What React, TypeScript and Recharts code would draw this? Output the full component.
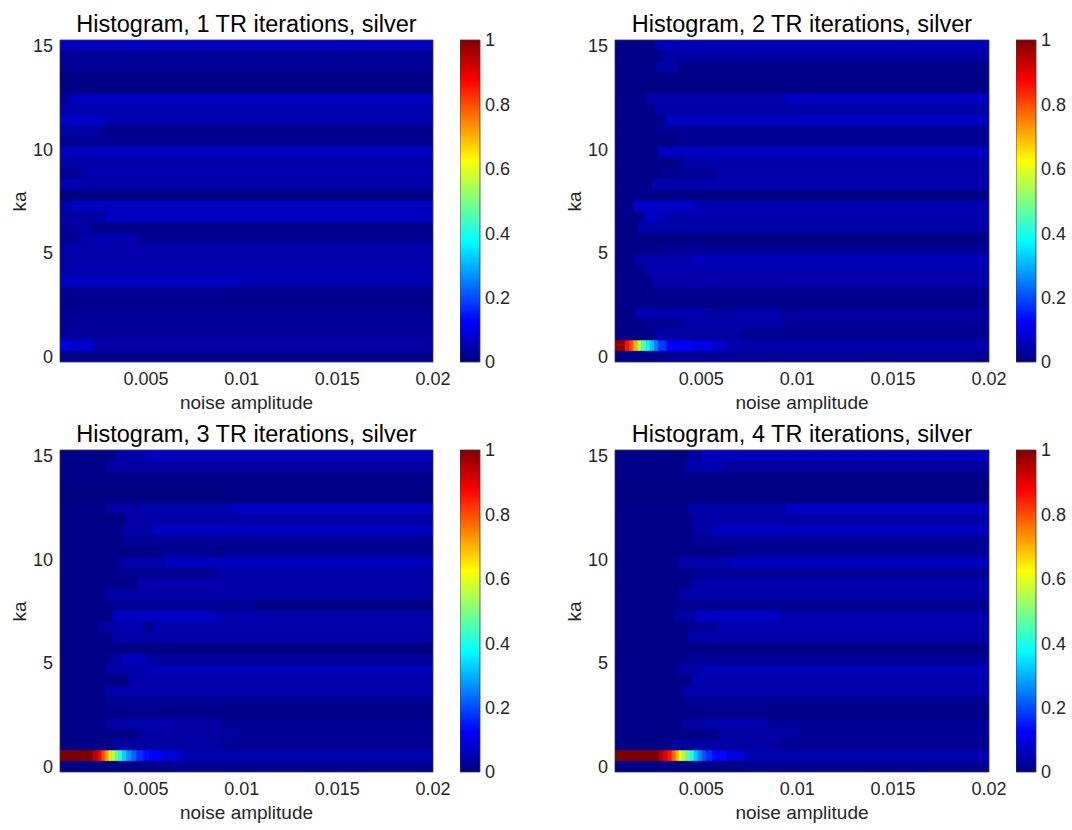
import React from 'react';
import { ComposedChart, XAxis, YAxis, ReferenceArea } from 'recharts';

// ---------- axes / categories ----------
const X_MIN = 0.0005;
const X_MAX = 0.02;
const X_TICKS = [0.005, 0.01, 0.015, 0.02];
const KA_TICKS = [0, 5, 10, 15];
const CB_TICKS = [0, 0.2, 0.4, 0.6, 0.8, 1];
// 30 ka rows (bottom -> top)
const KA_VALUES = [
  0, 0.517, 1.034, 1.552, 2.069, 2.586, 3.103, 3.621, 4.138, 4.655,
  5.172, 5.69, 6.207, 6.724, 7.241, 7.759, 8.276, 8.793, 9.31, 9.828,
  10.345, 10.862, 11.379, 11.897, 12.414, 12.931, 13.448, 13.966, 14.483, 15,
];
const KA_HALF = 0.2586;
const TITLES = [
  'Histogram, 1 TR iterations, silver',
  'Histogram, 2 TR iterations, silver',
  'Histogram, 3 TR iterations, silver',
  'Histogram, 4 TR iterations, silver',
];

// ---------- data: each row (top -> bottom) is a list of [x upper edge, value] runs ----------
const D = 0.008;
const ROWS_1: number[][][] = [
  [[0.02, 0.065]],
  [[0.02, 0.025]],
  [[0.02, 0.022]],
  [[0.02, 0.006]],
  [[0.02, 0.006]],
  [[0.00108, 0.03], [0.02, 0.065]],
  [[0.02, 0.048]],
  [[0.00287, 0.072], [0.02, 0.045]],
  [[0.00264, 0.035], [0.02, 0.01]],
  [[0.02, 0.022]],
  [[0.02, 0.063]],
  [[0.02, 0.04]],
  [[0.00169, 0.02], [0.02, 0.048]],
  [[0.00169, 0.055], [0.02, 0.04]],
  [[0.02, 0.005]],
  [[0.00108, 0.045], [0.02, 0.062]],
  [[0.00287, 0.035], [0.02, 0.068]],
  [[0.00212, 0.03], [0.02, 0.01]],
  [[0.00169, 0.025], [0.00456, 0.045], [0.02, 0.022]],
  [[0.02, 0.045]],
  [[0.02, 0.045]],
  [[0.02, 0.05]],
  [[0.00987, 0.068], [0.02, 0.05]],
  [[0.02, 0.02]],
  [[0.02, 0.01]],
  [[0.02, 0.025]],
  [[0.02, 0.025]],
  [[0.02, 0.03]],
  [[0.0009, 0.1], [0.0023, 0.08], [0.02, 0.035]],
  [[0.02, 0.015]],
];

const ROWS_2: number[][][] = [
  [[0.0026, D], [0.02, 0.058]],
  [[0.00295, D], [0.02, 0.035]],
  [[0.00269, D], [0.00373, 0.04], [0.02, 0.012]],
  [[0.02, 0.006]],
  [[0.02, 0.006]],
  [[0.00208, D], [0.00938, 0.045], [0.02, 0.068]],
  [[0.0026, D], [0.02, 0.04]],
  [[0.00312, D], [0.02, 0.068]],
  [[0.00278, D], [0.02, 0.022]],
  [[0.00295, D], [0.00356, 0.0], [0.02, 0.022]],
  [[0.00278, D], [0.02, 0.065]],
  [[0.00295, D], [0.00399, 0.002], [0.02, 0.04]],
  [[0.00295, D], [0.00573, 0.02], [0.02, 0.045]],
  [[0.00243, D], [0.02, 0.045]],
  [[0.00295, D], [0.02, 0.005]],
  [[0.00147, D], [0.0046, 0.072], [0.02, 0.05]],
  [[0.002, D], [0.00295, 0.065], [0.02, 0.045]],
  [[0.00165, D], [0.02, 0.04]],
  [[0.02, 0.007]],
  [[0.00295, D], [0.02, 0.022]],
  [[0.00156, D], [0.00451, 0.045], [0.02, 0.06]],
  [[0.00208, D], [0.02, 0.045]],
  [[0.00243, D], [0.02, 0.045]],
  [[0.00191, D], [0.02, 0.018]],
  [[0.02, 0.01]],
  [[0.00156, D], [0.00521, 0.05], [0.00677, 0.035], [0.00904, 0.045], [0.02, 0.03]],
  [[0.00208, D], [0.00399, 0.02], [0.00938, 0.04], [0.02, 0.025]],
  [[0.0026, D], [0.00399, 0.04], [0.00712, 0.035], [0.02, 0.018]],
  [[0.00102, 0.98], [0.00125, 0.86], [0.00145, 0.8], [0.00168, 0.7], [0.00189, 0.55],
   [0.00212, 0.46], [0.00232, 0.38], [0.00255, 0.32], [0.00276, 0.25], [0.0032, 0.18],
   [0.0045, 0.12], [0.0056, 0.1], [0.00634, 0.07], [0.02, 0.045]],
  [[0.00278, D], [0.02, 0.022]],
];

const ROWS_3: number[][][] = [
  [[0.00343, D], [0.005, 0.045], [0.02, 0.063]],
  [[0.0029, D], [0.02, 0.035]],
  [[0.02, 0.01]],
  [[0.02, 0.005]],
  [[0.02, 0.005]],
  [[0.0029, D], [0.00465, 0.035], [0.00953, 0.045], [0.02, 0.065]],
  [[0.0029, D], [0.00395, 0.002], [0.02, 0.04]],
  [[0.00378, D], [0.00535, 0.04], [0.02, 0.068]],
  [[0.00378, D], [0.02, 0.022]],
  [[0.00378, D], [0.00569, 0.004], [0.00866, 0.022], [0.00901, 0.003], [0.02, 0.022]],
  [[0.00343, D], [0.00395, 0.035], [0.00604, 0.045], [0.02, 0.063]],
  [[0.00343, D], [0.00866, 0.018], [0.02, 0.04]],
  [[0.00343, D], [0.00456, 0.01], [0.02, 0.045]],
  [[0.0029, D], [0.02, 0.04]],
  [[0.00325, D], [0.01075, 0.02], [0.02, 0.005]],
  [[0.00325, D], [0.00866, 0.068], [0.02, 0.045]],
  [[0.00256, D], [0.0036, 0.035], [0.00482, 0.05], [0.00535, 0.01], [0.02, 0.045]],
  [[0.00325, D], [0.02, 0.04]],
  [[0.02, 0.007]],
  [[0.00308, D], [0.00378, 0.035], [0.005, 0.06], [0.02, 0.028]],
  [[0.0029, D], [0.00482, 0.04], [0.02, 0.058]],
  [[0.00325, D], [0.00412, 0.005], [0.02, 0.045]],
  [[0.0029, D], [0.02, 0.045]],
  [[0.0029, D], [0.02, 0.018]],
  [[0.02, 0.01]],
  [[0.0029, D], [0.00378, 0.035], [0.00639, 0.045], [0.00883, 0.035], [0.02, 0.022]],
  [[0.00308, D], [0.00465, 0.008], [0.00987, 0.035], [0.02, 0.022]],
  [[0.00325, D], [0.00901, 0.035], [0.02, 0.02]],
  [[0.00224, 1.0], [0.0025, 0.93], [0.00268, 0.87], [0.00285, 0.8], [0.00303, 0.72],
   [0.0032, 0.64], [0.00338, 0.56], [0.00358, 0.48], [0.00378, 0.4], [0.00399, 0.33],
   [0.00425, 0.27], [0.00451, 0.22], [0.00486, 0.17], [0.0052, 0.14], [0.00582, 0.12],
   [0.00686, 0.09], [0.02, 0.05]],
  [[0.00639, D], [0.02, 0.02]],
];

const ROWS_4: number[][][] = [
  [[0.00434, D], [0.00504, 0.04], [0.02, 0.06]],
  [[0.00417, D], [0.00538, 0.045], [0.00608, 0.055], [0.02, 0.032]],
  [[0.02, 0.008]],
  [[0.02, 0.005]],
  [[0.02, 0.005]],
  [[0.00434, D], [0.00938, 0.04], [0.02, 0.065]],
  [[0.00451, D], [0.02, 0.04]],
  [[0.00451, D], [0.00556, 0.035], [0.02, 0.068]],
  [[0.00451, D], [0.02, 0.022]],
  [[0.00451, D], [0.00686, 0.008], [0.02, 0.022]],
  [[0.00382, D], [0.00643, 0.045], [0.02, 0.063]],
  [[0.00451, D], [0.02, 0.025]],
  [[0.00451, D], [0.02, 0.045]],
  [[0.00382, D], [0.02, 0.042]],
  [[0.00382, D], [0.02, 0.018]],
  [[0.00364, D], [0.00469, 0.04], [0.00904, 0.068], [0.02, 0.045]],
  [[0.00434, D], [0.00591, 0.025], [0.02, 0.045]],
  [[0.00434, D], [0.02, 0.042]],
  [[0.02, 0.007]],
  [[0.00434, D], [0.02, 0.025]],
  [[0.00382, D], [0.00504, 0.04], [0.02, 0.058]],
  [[0.00451, D], [0.02, 0.045]],
  [[0.00399, D], [0.02, 0.045]],
  [[0.00417, D], [0.02, 0.018]],
  [[0.02, 0.01]],
  [[0.00399, D], [0.00504, 0.035], [0.00851, 0.045], [0.02, 0.025]],
  [[0.00434, D], [0.00591, 0.01], [0.00999, 0.035], [0.02, 0.022]],
  [[0.00347, D], [0.00904, 0.035], [0.02, 0.02]],
  [[0.0028, 1.0], [0.00301, 0.95], [0.00324, 0.9], [0.00346, 0.85], [0.00364, 0.78],
   [0.00382, 0.7], [0.00399, 0.62], [0.0042, 0.55], [0.00441, 0.47], [0.00462, 0.4],
   [0.00483, 0.32], [0.00504, 0.26], [0.00525, 0.21], [0.0056, 0.17], [0.0063, 0.13],
   [0.00734, 0.09], [0.02, 0.05]],
  [[0.0073, D], [0.02, 0.02]],
];

// ---------- styling ----------
const FONT = '"Liberation Sans", Arial, Helvetica, sans-serif';
const TEXT = '#262626';
const TICK_FS = 18;
const LABEL_FS = 19;
const TITLE_FS = 23.5;

const clamp = (t: number) => Math.max(0, Math.min(1, t));
function jet(v: number): string {
  const r = clamp(1.5 - Math.abs(4 * v - 3));
  const g = clamp(1.5 - Math.abs(4 * v - 2));
  const b = clamp(1.5 - Math.abs(4 * v - 1));
  return `rgb(${Math.round(r * 255)},${Math.round(g * 255)},${Math.round(b * 255)})`;
}

const fmt = (v: number) => String(v);

const M_TOP = 12;
const M_RIGHT = 30;
const Y_AX_W = 60;
const X_AX_H = 40;

function Heatmap({ rows, left, top, plotW, plotH }: { rows: number[][][]; left: number; top: number; plotW: number; plotH: number }) {
  const areas: React.ReactNode[] = [];
  const n = KA_VALUES.length;
  const yMin = KA_VALUES[0] - KA_HALF;
  const yMax = KA_VALUES[n - 1] + KA_HALF;
  areas.push(
    <ReferenceArea key="bg" x1={X_MIN} x2={X_MAX} y1={yMin} y2={yMax} fill={jet(0.01)} fillOpacity={1} stroke="none" ifOverflow="hidden" />
  );
  rows.forEach((row, j) => {
    const ka = KA_VALUES[n - 1 - j];
    let x0 = X_MIN;
    row.forEach(([x1, v], i) => {
      const c = jet(v);
      areas.push(
        <ReferenceArea
          key={`${j}-${i}`}
          x1={x0}
          x2={x1}
          y1={ka - KA_HALF}
          y2={ka + KA_HALF}
          fill={c}
          fillOpacity={1}
          stroke={c}
          strokeWidth={0.5}
          ifOverflow="hidden"
        />
      );
      x0 = x1;
    });
  });
  const W = plotW + Y_AX_W + M_RIGHT;
  const H = plotH + M_TOP + X_AX_H;
  return (
    <div style={{ position: 'absolute', left: left - Y_AX_W, top: top - M_TOP, width: W, height: H }}>
      <ComposedChart width={W} height={H} margin={{ top: M_TOP, right: M_RIGHT, bottom: 0, left: 0 }} data={[]}>
        <XAxis
          type="number"
          dataKey="x"
          domain={[X_MIN, X_MAX]}
          allowDataOverflow
          ticks={X_TICKS}
          interval={0}
          tickFormatter={fmt}
          height={X_AX_H}
          tickSize={0}
          tickMargin={10}
          axisLine={false}
          tickLine={false}
          tick={{ fontFamily: FONT, fontSize: TICK_FS, fill: TEXT }}
        />
        <YAxis
          type="number"
          dataKey="y"
          domain={[yMin, yMax]}
          allowDataOverflow
          ticks={KA_TICKS}
          interval={0}
          tickFormatter={fmt}
          width={Y_AX_W}
          tickSize={0}
          tickMargin={7}
          axisLine={false}
          tickLine={false}
          tick={{ fontFamily: FONT, fontSize: TICK_FS, fill: TEXT }}
        />
        {areas}
        <ReferenceArea x1={X_MIN} x2={X_MAX} y1={yMin} y2={yMax} fill="none" fillOpacity={0} stroke="#3a3a3a" strokeWidth={0.8} ifOverflow="visible" />
      </ComposedChart>
    </div>
  );
}

const JET_STOPS: [number, string][] = [
  [0, '#000080'],
  [0.125, '#0000ff'],
  [0.375, '#00ffff'],
  [0.625, '#ffff00'],
  [0.875, '#ff0000'],
  [1, '#800000'],
];

function Colorbar({ left, top, barW, plotH }: { left: number; top: number; barW: number; plotH: number }) {
  const W = barW + 45;
  const H = plotH + 2 * M_TOP;
  return (
    <div style={{ position: 'absolute', left, top: top - M_TOP, width: W, height: H }}>
      <ComposedChart width={W} height={H} margin={{ top: M_TOP, right: 0, bottom: M_TOP, left: 0 }} data={[]}>
        <XAxis
          type="number"
          dataKey="x"
          domain={[0, 1]}
          allowDataOverflow
          height={0}
          tick={false}
          tickLine={false}
          axisLine={false}
        />
        <YAxis
          type="number"
          dataKey="y"
          orientation="right"
          domain={[0, 1]}
          allowDataOverflow
          ticks={CB_TICKS}
          interval={0}
          tickFormatter={fmt}
          width={45}
          tickSize={0}
          tickMargin={5}
          axisLine={false}
          tickLine={false}
          tick={{ fontFamily: FONT, fontSize: TICK_FS, fill: TEXT }}
        />
        <ReferenceArea x1={0} x2={1} y1={0} y2={1} fill="url(#jetGradient)" fillOpacity={1} stroke="#3a3a3a" strokeWidth={0.8} ifOverflow="visible" />
      </ComposedChart>
    </div>
  );
}

const PANELS = [
  { rows: ROWS_1, L: 60, T: 40, W: 373, cb: 460 },
  { rows: ROWS_2, L: 615, T: 40, W: 374, cb: 1016 },
  { rows: ROWS_3, L: 60, T: 450, W: 373, cb: 460 },
  { rows: ROWS_4, L: 615, T: 450, W: 374, cb: 1016 },
];
const PLOT_H = 322;

export default function App() {
  return (
    <div style={{ position: 'absolute', left: 0, top: 0, width: 1072, height: 830, background: '#fff', overflow: 'hidden', fontFamily: FONT }}>
      <svg width={0} height={0} style={{ position: 'absolute' }}>
        <defs>
          <linearGradient id="jetGradient" x1="0" y1="1" x2="0" y2="0">
            {JET_STOPS.map(([o, c]) => (
              <stop key={String(o)} offset={`${o * 100}%`} stopColor={c} />
            ))}
          </linearGradient>
        </defs>
      </svg>
      {PANELS.map((p, i) => {
        const cx = p.L + p.W / 2;
        return (
          <React.Fragment key={i}>
            <div style={{ position: 'absolute', left: cx - 300, width: 600, top: p.T - 40 + 24.5 - TITLE_FS / 2, textAlign: 'center', fontSize: TITLE_FS, lineHeight: 1, color: '#000', whiteSpace: 'nowrap' }}>
              {TITLES[i]}
            </div>
            <Heatmap rows={p.rows} left={p.L} top={p.T} plotW={p.W} plotH={PLOT_H} />
            <Colorbar left={p.cb} top={p.T} barW={20} plotH={PLOT_H} />
            <div style={{ position: 'absolute', left: cx - 150, width: 300, top: p.T + 353, textAlign: 'center', fontSize: LABEL_FS, lineHeight: 1, color: TEXT, whiteSpace: 'nowrap' }}>
              noise amplitude
            </div>
            <div style={{ position: 'absolute', left: p.L - 41 - 50, width: 100, top: p.T + PLOT_H / 2 - LABEL_FS / 2, height: LABEL_FS, textAlign: 'center', fontSize: LABEL_FS, lineHeight: 1, color: TEXT, transform: 'rotate(-90deg)', transformOrigin: 'center center', whiteSpace: 'nowrap' }}>
              ka
            </div>
          </React.Fragment>
        );
      })}
    </div>
  );
}
